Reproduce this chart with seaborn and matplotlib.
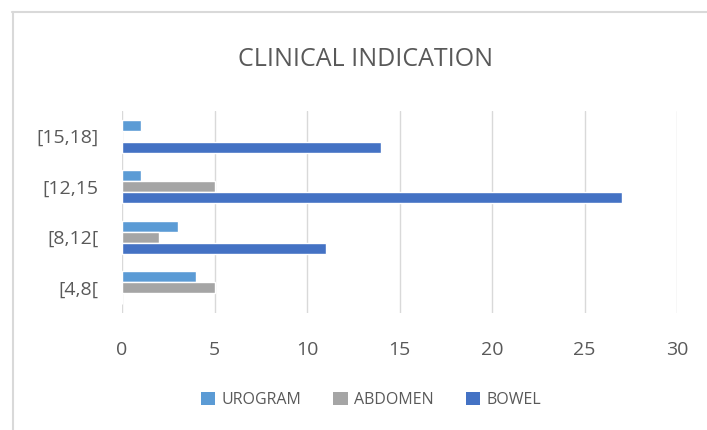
import matplotlib
matplotlib.use("Agg")
import matplotlib.pyplot as plt
import seaborn as sns
import pandas as pd
from matplotlib.lines import Line2D
from matplotlib.patches import Patch

categories = ["[15,18]", "[12,15", "[8,12[", "[4,8["]
series = ["UROGRAM", "ABDOMEN", "BOWEL"]
urogram = [1, 1, 3, 4]
abdomen = [0, 5, 2, 5]
bowel = [14, 27, 11, 0]
colors = ["#5B9BD5", "#A5A5A5", "#4472C4"]
xticks = [0, 5, 10, 15, 20, 25, 30]

rows = []
for s, vals in zip(series, [urogram, abdomen, bowel]):
    for c, v in zip(categories, vals):
        rows.append({"category": c, "series": s, "value": v})
df = pd.DataFrame(rows)

sns.set_theme(style="white")
plt.rcParams["font.family"] = ["Open Sans", "DejaVu Sans"]

fig = plt.figure(figsize=(7.07, 4.30), dpi=100)
ax = fig.add_axes([122 / 707, 1 - 313 / 430, (677 - 122) / 707, (313 - 111) / 430])

sns.barplot(data=df, y="category", x="value", hue="series", order=categories,
            hue_order=series, palette=colors, orient="h", width=0.65,
            saturation=1, ax=ax, legend=False, errorbar=None)

ax.set_xlim(0, 30)
ax.set_ylim(3.5, -0.5)
ax.set_xticks(xticks)
ax.set_xticklabels([str(t) for t in xticks])
ax.xaxis.grid(True, color="#D9D9D9", linewidth=1)
ax.set_axisbelow(True)
for sp in ax.spines.values():
    sp.set_visible(False)
ax.tick_params(axis="x", length=0, pad=20, labelsize=14, labelcolor="#595959")
ax.tick_params(axis="y", length=0, pad=17, labelsize=14, labelcolor="#595959")
ax.set_xlabel("")
ax.set_ylabel("")

fig.text(366 / 707, 1 - 60 / 430, "CLINICAL INDICATION", ha="center", va="center",
         fontsize=18, color="#595959")

handles = [Patch(facecolor=c, edgecolor="none") for c in colors]
fig.legend(handles, series, loc="center", bbox_to_anchor=(371 / 707, 1 - 400 / 430),
           ncol=3, frameon=False, fontsize=11.5, labelcolor="#595959",
           handlelength=0.9, handleheight=0.9, handletextpad=0.4, columnspacing=2.0)

# chart border (top and left visible)
fig.add_artist(Line2D([12 / 707, 1], [1 - 12 / 430, 1 - 12 / 430], color="#D9D9D9",
                      linewidth=1.5, transform=fig.transFigure))
fig.add_artist(Line2D([12.5 / 707, 12.5 / 707], [0, 1 - 12 / 430], color="#D9D9D9",
                      linewidth=1.5, transform=fig.transFigure))

fig.savefig("out.png", dpi=100)
